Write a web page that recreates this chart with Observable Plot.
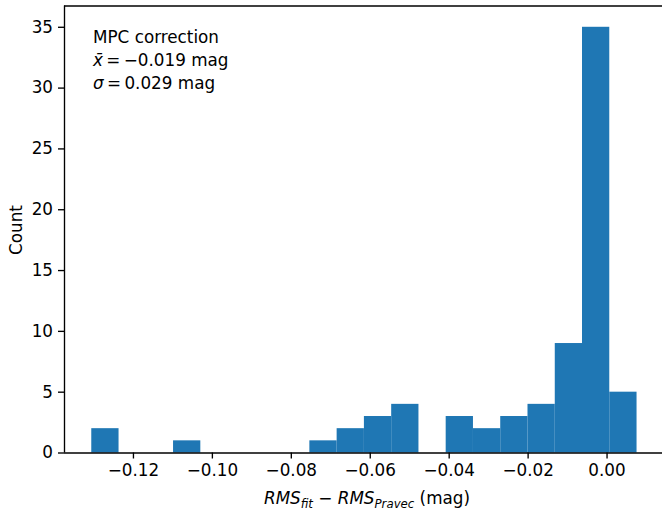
<!DOCTYPE html>
<html>
<head>
<meta charset="utf-8">
<script src="https://cdn.jsdelivr.net/npm/d3@7"></script>
<script src="https://cdn.jsdelivr.net/npm/@observablehq/plot@0.6"></script>
<style>
  body { margin: 0; background: #fff; }
  svg { font-family: "DejaVu Sans", sans-serif; }
</style>
</head>
<body>
<div id="chart"></div>
<script>
// Histogram of RMS differences (fit minus Pravec), 20 equal-width bins
const binLo = [-0.13056, -0.12365, -0.11674, -0.10984, -0.10293, -0.09602, -0.08911, -0.08220, -0.07530, -0.06839,
               -0.06148, -0.05457, -0.04766, -0.04076, -0.03385, -0.02694, -0.02003, -0.01312, -0.00622, 0.00069];
const binHi = [-0.12365, -0.11674, -0.10984, -0.10293, -0.09602, -0.08911, -0.08220, -0.07530, -0.06839, -0.06148,
               -0.05457, -0.04766, -0.04076, -0.03385, -0.02694, -0.02003, -0.01312, -0.00622, 0.00069, 0.00760];
const counts = [2, 0, 0, 1, 0, 0, 0, 0, 1, 2,
                3, 4, 0, 3, 2, 3, 4, 9, 35, 5];

const xTicks = [-0.12, -0.10, -0.08, -0.06, -0.04, -0.02, 0.00];
const yTicks = [0, 5, 10, 15, 20, 25, 30, 35];

const xDomain = [-0.13747, 0.01405];
const yDomain = [0, 36.75];

const bins = binLo.map((lo, i) => ({lo, hi: binHi[i], count: counts[i]})).filter(d => d.count > 0);

const fs = 16.8;
const spine = {stroke: "#000", strokeWidth: 1.35};

const chart = Plot.plot({
  width: 662,
  height: 514,
  marginLeft: 64,
  marginRight: 0,
  marginTop: 5.5,
  marginBottom: 61.5,
  style: {fontFamily: "DejaVu Sans", fontSize: fs + "px", background: "#fff", color: "#000"},
  x: {domain: xDomain},
  y: {domain: yDomain},
  marks: [
    Plot.rectY(bins, {x1: "lo", x2: "hi", y1: 0, y2: "count", fill: "#1f77b4", inset: 0}),
    Plot.axisX(xTicks, {tickSize: 6, tickPadding: 5.5, strokeWidth: 1.35, tickFormat: d3.format(".2f"), fontSize: fs, label: null}),
    Plot.axisY(yTicks, {tickSize: 6, tickPadding: 5.5, strokeWidth: 1.35, tickFormat: d3.format("d"), fontSize: fs, label: null}),
    Plot.ruleY([yDomain[0]], spine),
    Plot.ruleY([yDomain[1]], spine),
    Plot.ruleX([xDomain[0]], spine)
  ]
});

document.getElementById("chart").appendChild(chart);

const svg = d3.select(chart);

// Axis titles
const xl = svg.append("text")
  .attr("x", 367).attr("y", 504)
  .attr("text-anchor", "middle")
  .attr("font-size", fs).attr("fill", "#000");
xl.append("tspan").attr("font-style", "italic").text("RMS");
xl.append("tspan").attr("font-style", "italic").attr("font-size", fs * 0.7).attr("dy", 3.5).text("fit");
xl.append("tspan").attr("dy", -3.5).text(" \u2212 ");
xl.append("tspan").attr("font-style", "italic").text("RMS");
xl.append("tspan").attr("font-style", "italic").attr("font-size", fs * 0.7).attr("dy", 3.5).text("Pravec");
xl.append("tspan").attr("dy", -3.5).text(" (mag)");

svg.append("text")
  .attr("transform", "translate(21.7,230) rotate(-90)")
  .attr("text-anchor", "middle")
  .attr("font-size", fs).attr("fill", "#000")
  .text("Count");

// Summary statistics
const stats = svg.append("g")
  .attr("font-size", fs).attr("fill", "#000").attr("text-anchor", "start");
stats.append("text").attr("x", 93).attr("y", 42.7).text("MPC correction");
const m = stats.append("text").attr("x", 93).attr("y", 66);
m.append("tspan").attr("font-style", "italic").text("x\u0304");
m.append("tspan").text("\u2009=\u2009\u22120.019 mag");
const s = stats.append("text").attr("x", 93).attr("y", 89.3);
s.append("tspan").attr("font-style", "italic").text("\u03c3");
s.append("tspan").text("\u2009=\u20090.029 mag");
</script>
</body>
</html>
